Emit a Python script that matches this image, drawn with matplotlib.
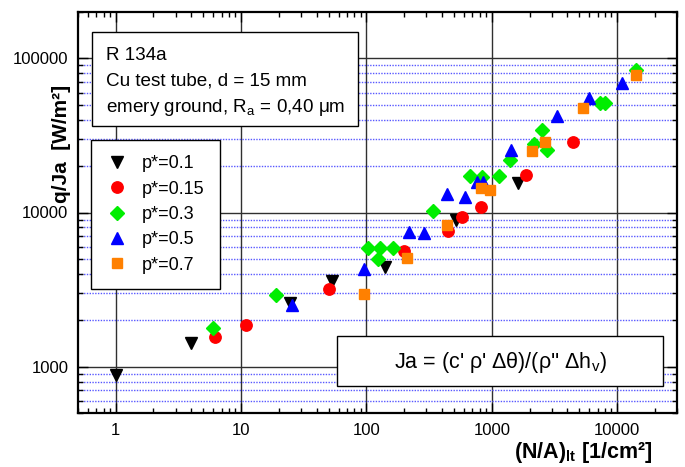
import matplotlib
matplotlib.use("Agg")
import matplotlib.pyplot as plt
from matplotlib.patches import Rectangle
from matplotlib.ticker import LogLocator, FixedLocator, FixedFormatter, NullFormatter

plt.rcParams['font.family'] = ['Liberation Sans', 'DejaVu Sans']
plt.rcParams['mathtext.default'] = 'regular'

# ---- data ----
x_p01 = [1, 4.0, 24.6, 52.8, 140, 514, 1620]
y_p01 = [880, 1430, 2590, 3620, 4460, 8900, 15500]

x_p015 = [6.24, 11.0, 50, 199, 449, 573, 822, 1857, 4420]
y_p015 = [1560, 1855, 3190, 5630, 7570, 9290, 10820, 17600, 28500]

x_p03 = [6.0, 19.0, 102, 123, 128, 164, 341, 668, 828, 1143, 1391, 2160, 2517, 2780, 7260, 7950, 14030]
y_p03 = [1770, 2900, 5910, 4980, 5910, 5900, 10200, 17200, 17100, 17140, 22070, 27860, 34260, 25470, 51300, 51300, 84100]

x_p05 = [25.6, 96, 219, 286, 440, 609, 755, 843, 1410, 3296, 5930, 10920]
y_p05 = [2510, 4310, 7500, 7310, 13270, 12590, 15740, 15740, 25590, 41980, 55700, 69000]

x_p07 = [96, 211, 436, 822, 964, 2110, 2680, 5380, 14000]
y_p07 = [2960, 5050, 8280, 14490, 14060, 24950, 28840, 47970, 78000]

series_labels = ["p*=0.1", "p*=0.15", "p*=0.3", "p*=0.5", "p*=0.7"]
x_ticks = [1, 10, 100, 1000, 10000]
x_ticklabels = ["1", "10", "100", "1000", "10000"]
y_ticks = [1000, 10000, 100000]
y_ticklabels = ["1000", "10000", "100000"]

fig = plt.figure(figsize=(6.85, 4.67), dpi=100)
ax = fig.add_axes([78/685, 1-413/467, 599/685, 401/467])
ax.set_xscale('log')
ax.set_yscale('log')
ax.set_xlim(0.5, 30000)
ax.set_ylim(500, 200000)

# grid
ax.set_axisbelow(True)
for v in x_ticks:
    ax.axvline(v, color='#303030', lw=1.0, zorder=0)
for v in y_ticks:
    ax.axhline(v, color='#303030', lw=1.0, zorder=0)
minor_y = [m * 10**e for e in range(2, 6) for m in range(2, 10)]
for v in minor_y:
    if 500 <= v < 100000:
        ax.axhline(v, color='#5858ff', lw=1.0, ls=(0, (1, 1)), zorder=0)

ms = 8.2
ax.plot(x_p01, y_p01, 'v', color='black', ms=ms, label=series_labels[0], zorder=3)
ax.plot(x_p015, y_p015, 'o', color='#ff0000', ms=ms, label=series_labels[1], zorder=3)
ax.plot(x_p03, y_p03, 'D', color='#00ee00', ms=6.8, label=series_labels[2], zorder=3)
ax.plot(x_p05, y_p05, '^', color='#0000ff', ms=ms, label=series_labels[3], zorder=3)
ax.plot(x_p07, y_p07, 's', color='#ff8000', ms=7.6, label=series_labels[4], zorder=3)

# ticks
ax.xaxis.set_major_locator(FixedLocator(x_ticks))
ax.xaxis.set_major_formatter(FixedFormatter(x_ticklabels))
ax.xaxis.set_minor_locator(LogLocator(base=10, subs=range(2, 10), numticks=20))
ax.xaxis.set_minor_formatter(NullFormatter())
ax.yaxis.set_major_locator(FixedLocator(y_ticks))
ax.yaxis.set_major_formatter(FixedFormatter(y_ticklabels))
ax.yaxis.set_minor_locator(LogLocator(base=10, subs=range(2, 10), numticks=20))
ax.yaxis.set_minor_formatter(NullFormatter())
ax.tick_params(which='both', direction='in', top=True, right=True, width=1.0, labelsize=12)
ax.tick_params(which='major', length=7)
ax.tick_params(which='minor', length=3.6)
ax.tick_params(axis='y', pad=7)
ax.tick_params(axis='x', pad=7)
for s in ax.spines.values():
    s.set_linewidth(1.6)

# labels
ax.set_xlabel("(N/A)$_{lt}$ [1/cm²]", fontsize=15.5, fontweight='bold', ha='right', va='center')
ax.xaxis.set_label_coords(0.96, -0.099)
ax.set_ylabel("q/Ja  [W/m²]", fontsize=15, fontweight='bold', va='center')
ax.yaxis.set_label_coords(-0.028, 0.672)

# legend
leg = ax.legend(loc='upper left', bbox_to_anchor=(0.0217, 0.681), fontsize=13,
                frameon=True, fancybox=False, framealpha=1, edgecolor='black',
                handletextpad=0.76, labelspacing=0.46, borderpad=0.86,
                handlelength=1.2, borderaxespad=0)
leg.get_frame().set_linewidth(1.0)
leg.set_zorder(5)

# text box 1
ax.add_patch(Rectangle((0.0234, 0.7157), 0.444, 0.2343, transform=ax.transAxes,
                       facecolor='white', edgecolor='black', lw=1.0, zorder=4))
ax.text(0.0467, 0.8803, "R 134a", transform=ax.transAxes, fontsize=13.6, va='baseline', zorder=6)
ax.text(0.0467, 0.8155, "Cu test tube, d = 15 mm", transform=ax.transAxes, fontsize=13.6, va='baseline', zorder=6)
ax.text(0.0467, 0.7506, "emery ground, R$_a$ = 0,40 μm", transform=ax.transAxes, fontsize=13.6, va='baseline', zorder=6)

# Ja box
ax.add_patch(Rectangle((0.4324, 0.0673), 0.5442, 0.1247, transform=ax.transAxes,
                       facecolor='white', edgecolor='black', lw=1.0, zorder=4))
ax.text(0.7045, 0.1247, "Ja = (c' ρ' Δθ)/(ρ'' Δh$_v$)", transform=ax.transAxes,
        fontsize=15.5, ha='center', va='center', zorder=6)

fig.savefig("out.png", dpi=100)
